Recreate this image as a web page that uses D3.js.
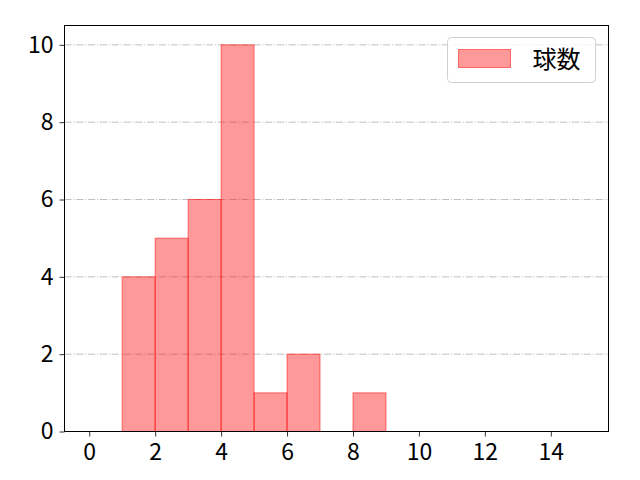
<!DOCTYPE html>
<html>
<head>
<meta charset="utf-8">
<script src="https://cdn.jsdelivr.net/npm/d3@7.9.0/dist/d3.min.js"></script>
<style>
  body { margin: 0; background: #fff; }
  svg { font-family: "Noto Sans CJK JP", "Noto Sans", sans-serif; }
</style>
</head>
<body>
<svg id="chart" width="640" height="480"></svg>
<script>
// histogram bins (left edge) and counts
const binStarts = [0, 1, 2, 3, 4, 5, 6, 7, 8, 9, 10, 11, 12, 13, 14]
const counts = [0, 4, 5, 6, 10, 1, 2, 0, 1, 0, 0, 0, 0, 0, 0]
const xTicks = [0, 2, 4, 6, 8, 10, 12, 14]
const yTicks = [0, 2, 4, 6, 8, 10]
const seriesName = '球数'

const margin = { left: 64.5, right: 31.5, top: 25.5, bottom: 48.5 }
const width = 640, height = 480

const svg = d3.select('#chart')

let x = d3.scaleLinear().domain([-0.75, 15.75]).range([margin.left, width - margin.right])
let y = d3.scaleLinear().domain([0, 10.5]).range([height - margin.bottom, margin.top])

// grid
svg.append('g')
    .selectAll('line')
    .data(yTicks.filter(d => d > 0))
    .join('line')
    .attr('x1', margin.left)
    .attr('x2', width - margin.right)
    .attr('y1', d => y(d))
    .attr('y2', d => y(d))
    .attr('stroke', '#b0b0b0')
    .attr('stroke-width', 0.8)
    .attr('stroke-dasharray', '7.1,1.8,1.1,1.8')

// bars
svg.append('g')
    .selectAll('rect')
    .data(binStarts.map((b, i) => ({ b, v: counts[i] })))
    .join('rect')
    .attr('x', d => x(d.b))
    .attr('width', d => x(d.b + 1) - x(d.b))
    .attr('y', d => y(d.v))
    .attr('height', d => y(0) - y(d.v))
    .attr('fill', 'rgba(255,0,0,0.4)')
    .attr('stroke', 'rgba(255,0,0,0.5)')
    .attr('stroke-width', 1)

// axes
let xAxis = d3.axisBottom(x).tickValues(xTicks).tickSize(5).tickPadding(7)
let yAxis = d3.axisLeft(y).tickValues(yTicks).tickSize(5).tickPadding(6)

let gx = svg.append('g')
    .attr('transform', `translate(0,${height - margin.bottom})`)
    .call(xAxis)
let gy = svg.append('g')
    .attr('transform', `translate(${margin.left},0)`)
    .call(yAxis)

for (let g of [gx, gy]) {
    g.select('.domain').remove()
    g.selectAll('text').attr('font-size', 23).attr('fill', '#000')
        .attr('font-family', '"Noto Sans CJK JP", sans-serif')
    g.selectAll('line').attr('stroke', '#000').attr('stroke-width', 0.8)
}

// frame
svg.append('rect')
    .attr('x', margin.left)
    .attr('y', margin.top)
    .attr('width', width - margin.left - margin.right)
    .attr('height', height - margin.top - margin.bottom)
    .attr('fill', 'none')
    .attr('stroke', '#000')
    .attr('stroke-width', 1)

// legend
let legend = svg.append('g').attr('transform', 'translate(447.5,37.5)')
legend.append('rect')
    .attr('width', 148).attr('height', 45)
    .attr('rx', 4)
    .attr('fill', 'rgba(255,255,255,0.8)')
    .attr('stroke', '#d0d0d0')
legend.append('rect')
    .attr('x', 11).attr('y', 12)
    .attr('width', 52).attr('height', 18)
    .attr('fill', 'rgba(255,0,0,0.4)')
    .attr('stroke', 'rgba(255,0,0,0.5)')
legend.append('text')
    .attr('x', 85).attr('y', 30)
    .attr('font-size', 24)
    .text(seriesName)
</script>
</body>
</html>
